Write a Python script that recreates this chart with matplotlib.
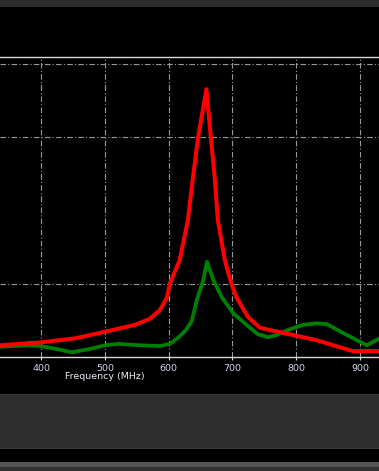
import matplotlib
matplotlib.use("Agg")
import matplotlib.pyplot as plt
from matplotlib.patches import Rectangle

# frequency sweep (MHz) and the two response traces
freq_red = [335, 399, 453, 500, 547, 570, 586, 597, 602, 617, 630, 638, 646, 659,
            666, 672, 677, 688, 698, 706, 724, 743, 763, 790, 832, 858, 889, 930]
amp_red = [0.16, 0.20, 0.255, 0.345, 0.44, 0.52, 0.64, 0.81, 1.01, 1.32, 1.87, 2.46, 3.0, 3.66,
           3.0, 2.46, 1.87, 1.32, 1.01, 0.82, 0.55, 0.40, 0.36, 0.31, 0.23, 0.16, 0.08, 0.08]

freq_green = [335, 382, 399, 429, 448, 476, 500, 520, 555, 586, 602, 617, 627, 636, 644,
              654, 660, 670, 683, 701, 722, 740, 756, 769, 790, 811, 832, 848, 869, 895, 911, 930]
amp_green = [0.14, 0.16, 0.15, 0.10, 0.065, 0.11, 0.16, 0.18, 0.16, 0.15, 0.18, 0.28, 0.37, 0.49, 0.78,
             1.05, 1.30, 1.05, 0.82, 0.60, 0.44, 0.31, 0.27, 0.30, 0.38, 0.44, 0.46, 0.45, 0.35, 0.23, 0.16, 0.25]

x_ticks = [400, 500, 600, 700, 800, 900]
y_grid = [1, 3, 4]

W, H = 379, 471
fig = plt.figure(figsize=(W / 100, H / 100), dpi=100)
fig.patch.set_facecolor("black")

def band(top, bottom, color):
    # screen-space panel, given in pixel rows from the top
    fig.patches.append(Rectangle((0, 1 - bottom / H), 1, (bottom - top) / H,
                                 transform=fig.transFigure, facecolor=color,
                                 edgecolor="none", zorder=0))

band(0, 7, "#2d2d2d")
band(394, 449, "#2d2d2d")
band(394, 395, "#3a3a3a")
band(448, 449, "#3a3a3a")
band(462, 467, "#565656")
band(467, 471, "#333333")

ax = fig.add_axes([0, 114 / H, 1, 300 / H])
ax.set_facecolor("black")

ax.plot(freq_green, amp_green, color="#008000", lw=2.7, solid_joinstyle="round", zorder=3)
ax.plot(freq_red, amp_red, color="#ff0000", lw=2.9, solid_joinstyle="round", zorder=4)

ax.set_xlim(335, 930)
ax.set_ylim(0, 4.1)
ax.set_xticks(x_ticks)
ax.set_yticks(y_grid)
ax.grid(True, color="#9a9a9a", lw=0.8, linestyle=(0, (5, 2, 1, 2)))
ax.tick_params(axis="x", colors="#d0d8e8", labelsize=6.8, length=2, pad=3)
ax.tick_params(axis="y", left=False, labelleft=False)

for side in ["left", "right"]:
    ax.spines[side].set_visible(False)
for side in ["top", "bottom"]:
    ax.spines[side].set_color("#d8d8d8")
    ax.spines[side].set_linewidth(1.0)

ax.text(500, -0.27, "Frequency (MHz)", color="#e8ecf4", fontsize=6.8,
        ha="center", va="center", transform=ax.transData, clip_on=False)

fig.savefig("out.png", dpi=100, facecolor=fig.get_facecolor())
